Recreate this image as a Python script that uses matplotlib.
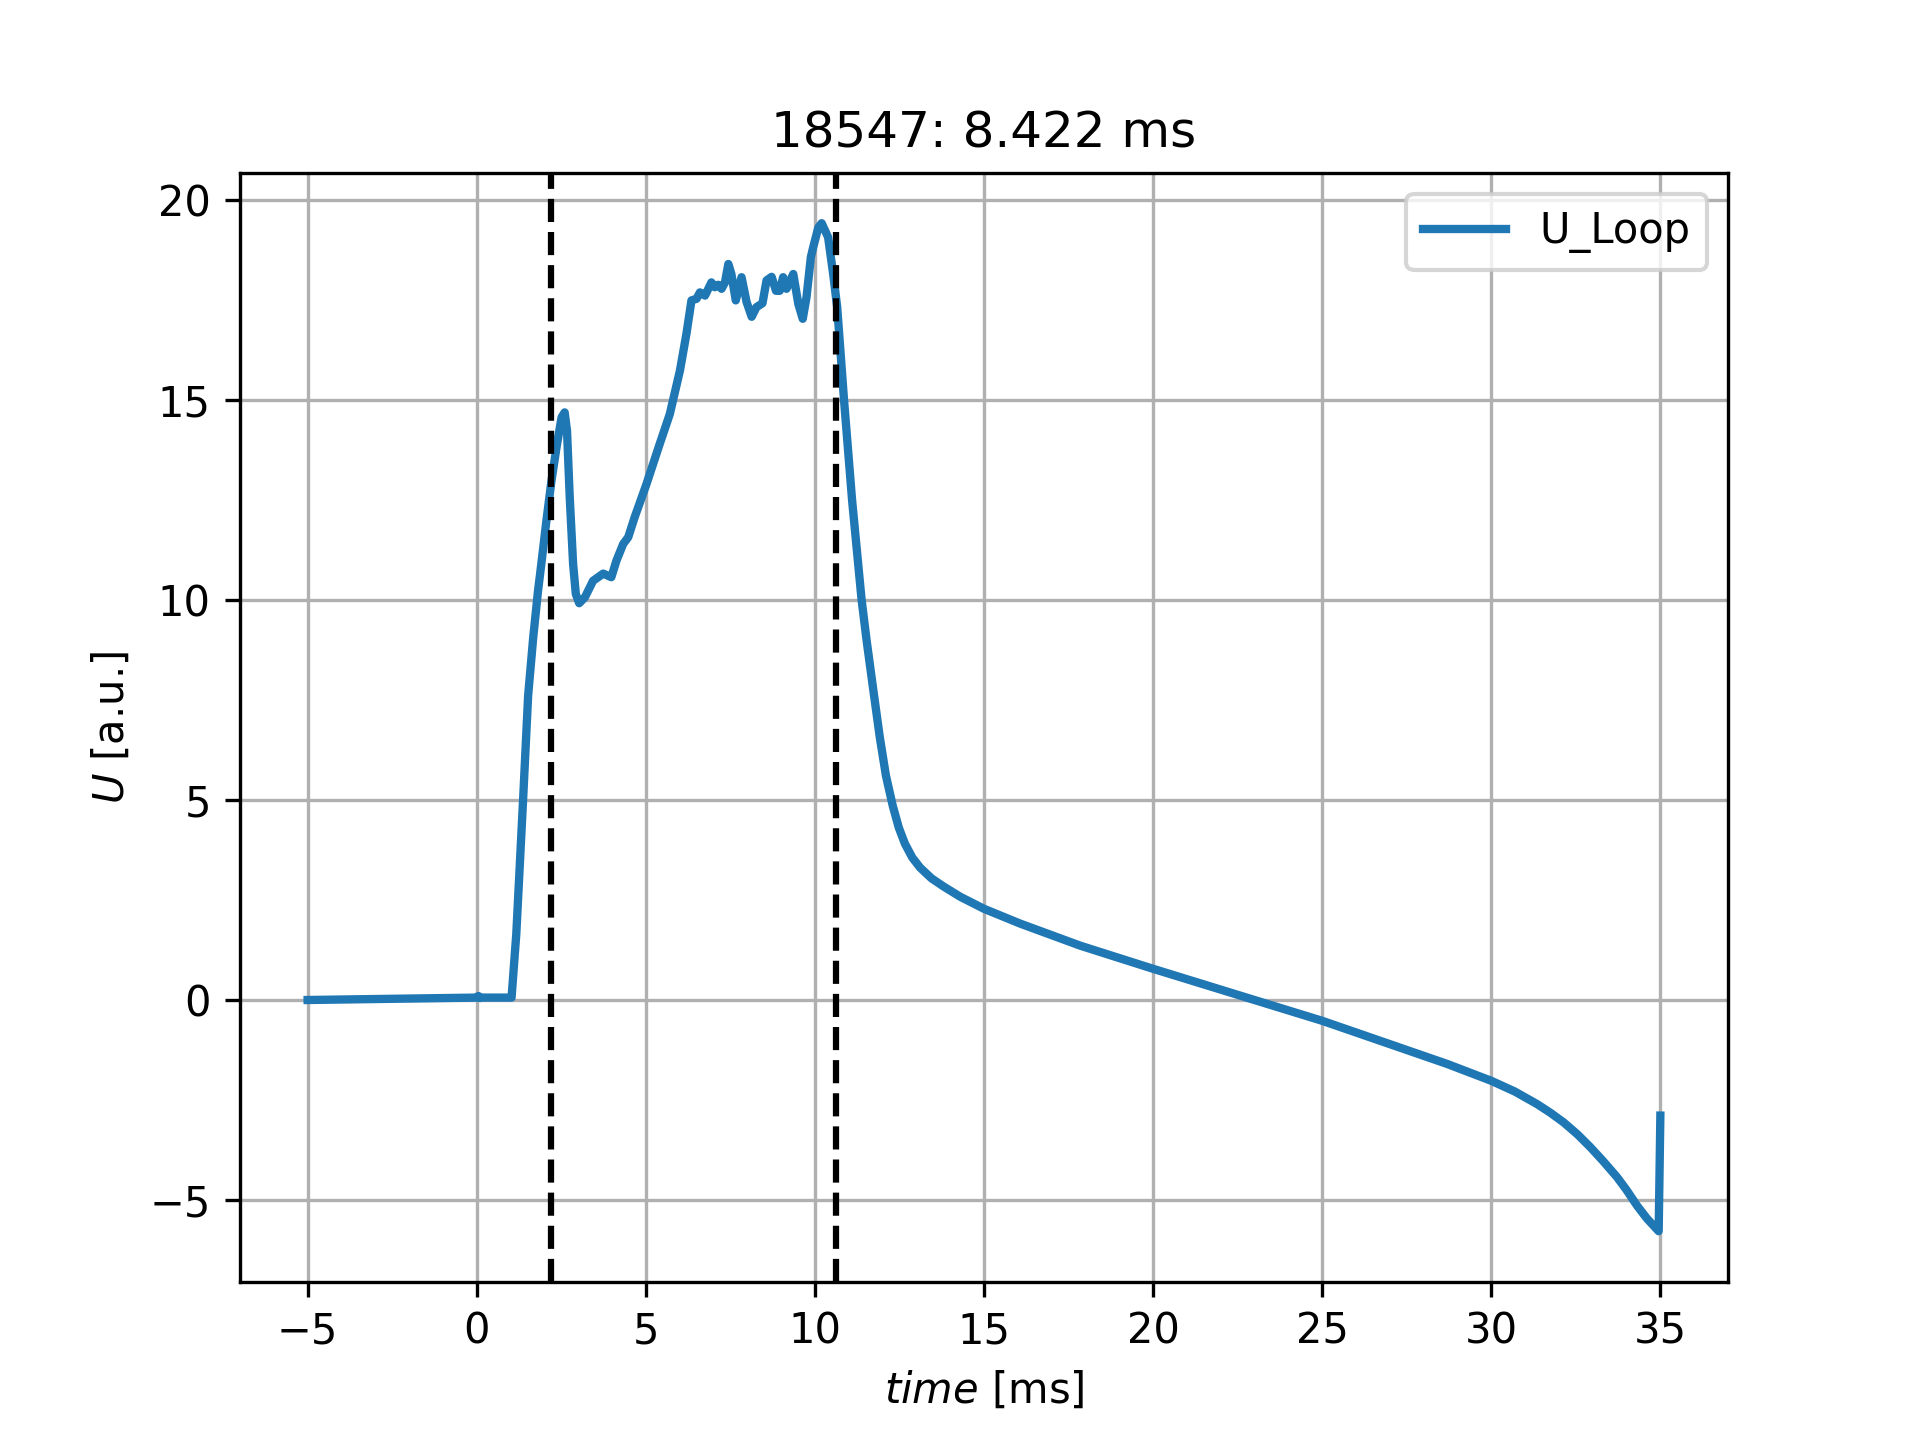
import numpy as np
import matplotlib
matplotlib.use("Agg")
import matplotlib.pyplot as plt

# Данные разряда
shot = 18547
t_start = 2.2
t_end = 10.622

time = [-5.0, -2.5, 0.0, 0.05, 0.1, 0.15, 1.03, 1.17, 1.37, 1.52, 1.67, 1.81,
        1.91, 2.06, 2.21, 2.36, 2.51, 2.60, 2.67, 2.75, 2.85, 2.93, 3.03, 3.20,
        3.44, 3.74, 3.98, 4.13, 4.33, 4.48, 4.67, 5.02, 5.41, 5.71, 6.01, 6.20,
        6.35, 6.50, 6.60, 6.75, 6.94, 7.04, 7.14, 7.24, 7.34, 7.44, 7.53, 7.66,
        7.83, 7.98, 8.13, 8.27, 8.45, 8.57, 8.72, 8.85, 8.96, 9.06, 9.16, 9.36,
        9.51, 9.64, 9.75, 9.88, 9.95, 10.10, 10.20, 10.39, 10.54, 10.66, 10.86,
        11.10, 11.38, 11.53, 11.73, 11.92, 12.10, 12.30, 12.48, 12.66,
        12.88, 13.11, 13.45, 13.80, 14.3, 15.0, 16.07, 17.84, 20.0, 23.46,
        25.0, 27.4, 28.7, 30.0, 30.7, 31.35, 31.75, 32.14, 32.55, 32.93, 33.3,
        33.72, 34.0, 34.31, 34.6, 34.95, 35.0]
u_loop = [-0.01, 0.02, 0.05, 0.09, 0.04, 0.05, 0.05, 1.64, 4.98, 7.6, 9.05, 10.2,
          10.89, 11.97, 12.97, 13.81, 14.56, 14.68, 14.22, 12.56, 10.89, 10.14,
          9.91, 10.06, 10.47, 10.65, 10.56, 10.97, 11.39, 11.56, 12.06, 12.89,
          13.89, 14.64, 15.73, 16.64, 17.48, 17.52, 17.68, 17.6, 17.93, 17.81,
          17.87, 17.77, 17.93, 18.39, 18.14, 17.48, 18.06, 17.44, 17.07, 17.31,
          17.41, 17.98, 18.07, 17.72, 17.72, 18.06, 17.77, 18.14, 17.39, 17.02,
          17.55, 18.56, 18.81, 19.3, 19.41, 19.06, 18.14, 17.3, 15.0, 12.48,
          10.0, 8.97, 7.72, 6.55, 5.6, 4.85, 4.3, 3.9, 3.55, 3.3, 3.03,
          2.83, 2.57, 2.27, 1.9, 1.35, 0.77, -0.13, -0.53, -1.23, -1.61,
          -2.03, -2.3, -2.61, -2.83, -3.07, -3.37, -3.69, -4.03, -4.44, -4.76,
          -5.15, -5.47, -5.79, -2.9]

fig, ax = plt.subplots(figsize=(6.4, 4.8), dpi=300)
ax.plot(time, u_loop, label="U_Loop", linewidth=2)
ax.axvline(t_start, color="k", linestyle="--", linewidth=1.5)
ax.axvline(t_end, color="k", linestyle="--", linewidth=1.5)
ax.set_xlabel("$time$ [ms]")
ax.set_ylabel("$U$ [a.u.]")
ax.set_title(f"{shot}: {t_end - t_start:.3f} ms")
ax.legend(loc="upper right")
ax.grid(True)
fig.savefig("out.png")
